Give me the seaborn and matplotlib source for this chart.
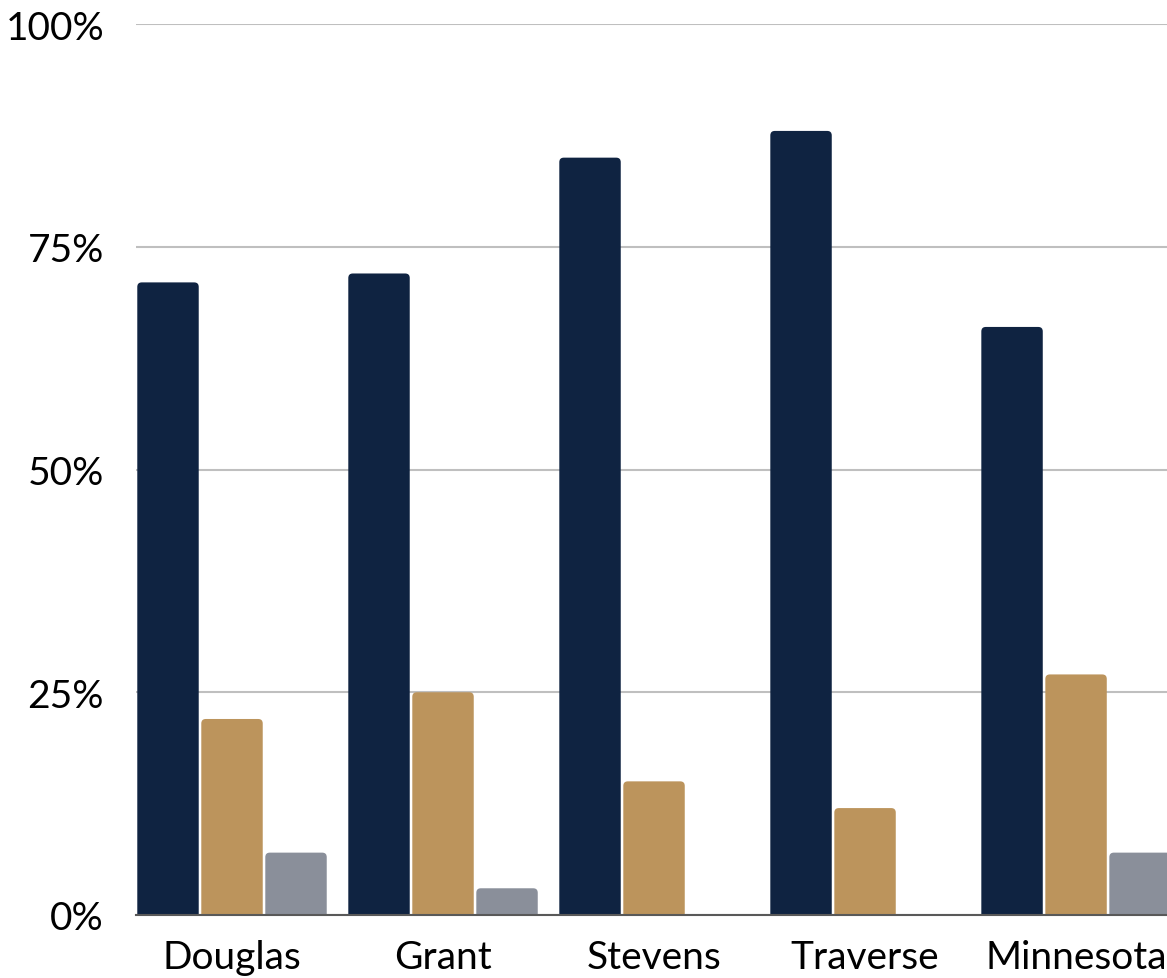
import matplotlib
matplotlib.use("Agg")
import matplotlib.pyplot as plt
import seaborn as sns
import pandas as pd
from matplotlib.patches import FancyBboxPatch

categories = ["Douglas", "Grant", "Stevens", "Traverse", "Minnesota"]
series_names = ["Series A", "Series B", "Series C"]
series_a = [71, 72, 85, 88, 66]
series_b = [22, 25, 15, 12, 27]
series_c = [7, 3, 0, 0, 7]
colors = ["#0F2341", "#BC945C", "#8A8F9A"]
yticks = [0, 25, 50, 75, 100]
ytick_labels = ["0%", "25%", "50%", "75%", "100%"]

rows = []
for name, vals in zip(series_names, [series_a, series_b, series_c]):
    for c, v in zip(categories, vals):
        rows.append({"county": c, "series": name, "value": v})
df = pd.DataFrame(rows)

sns.set_style("white")
plt.rcParams["font.family"] = ["Lato", "DejaVu Sans"]

W, H = 1167, 979
fig = plt.figure(figsize=(W / 100, H / 100), dpi=100)
top_px, bot_px = 25, 916
ax = fig.add_axes([136 / W, (H - bot_px) / H, (W - 136) / W, (bot_px - top_px) / H])

sns.barplot(data=df, x="county", y="value", hue="series", palette=colors,
            width=0.91, gap=0.04, ax=ax, legend=False, errorbar=None,
            saturation=1, linewidth=0)

ax.set_xlim(-0.455, 4.431)
ax.set_ylim(0, 100)

# rounded tops
px_x = 211.0
px_y = 8.91
r = 4.5 / px_x
asp = px_x / px_y
for p in list(ax.patches):
    x, y = p.get_x(), p.get_y()
    w, h = p.get_width(), p.get_height()
    fc = p.get_facecolor()
    p.remove()
    if h <= 0:
        continue
    fb = FancyBboxPatch((x, y - 2), w, h + 2,
                        boxstyle=f"round,pad=0,rounding_size={r}",
                        mutation_aspect=asp, facecolor=fc, edgecolor="none",
                        zorder=2)
    ax.add_patch(fb)

ax.set_yticks(yticks)
ax.set_yticklabels(ytick_labels)
ax.yaxis.grid(True, color="#BFBFBF", linewidth=1.5, zorder=0)
ax.set_axisbelow(True)
for s in ["top", "right", "left"]:
    ax.spines[s].set_visible(False)
ax.spines["bottom"].set_color("#595959")
ax.spines["bottom"].set_linewidth(1.5)
ax.spines["bottom"].set_zorder(3)
ax.tick_params(axis="y", length=0, pad=23, labelsize=28, labelcolor="black")
ax.tick_params(axis="x", length=0, pad=17, labelsize=28, labelcolor="black")
ax.set_xlabel("")
ax.set_ylabel("")

fig.savefig("out.png", dpi=100)
